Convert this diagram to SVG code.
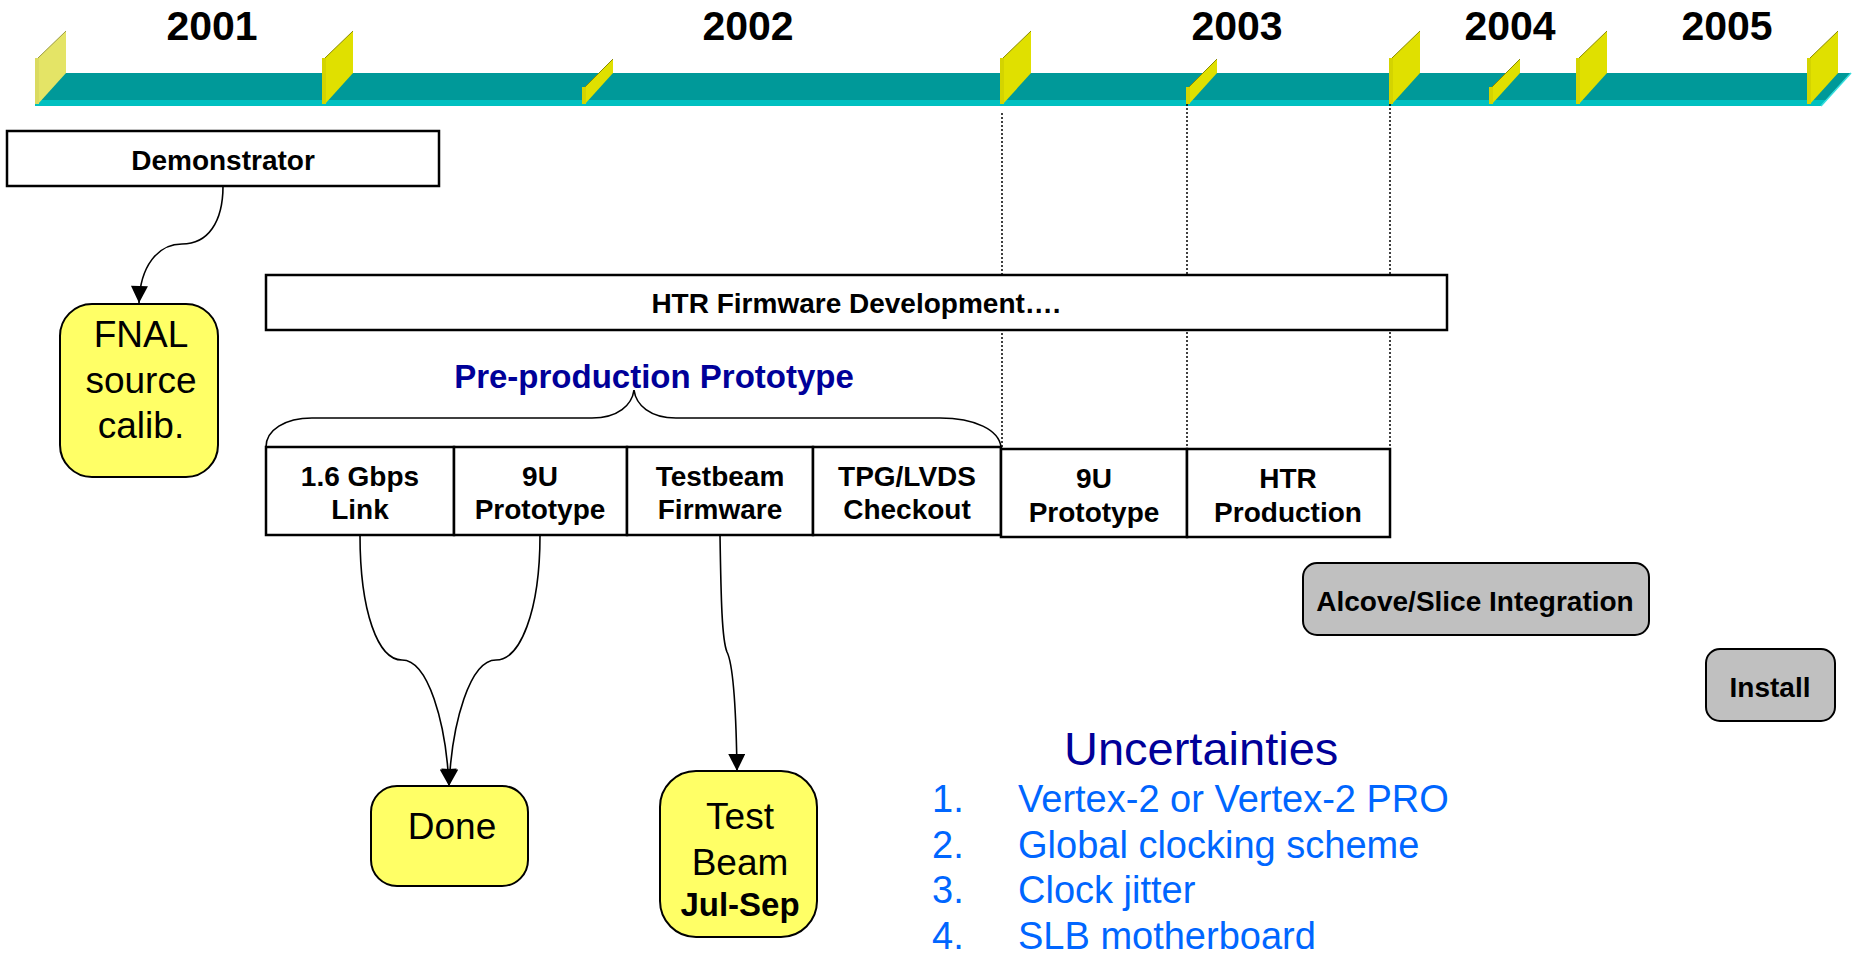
<svg xmlns="http://www.w3.org/2000/svg" width="1860" height="954" viewBox="0 0 1860 954">
  <style>
    text { font-family: "Liberation Sans", Arial, sans-serif; }
    .yr { font-size: 41px; font-weight: bold; text-anchor: middle; fill: #000; }
    .lbl { font-size: 28px; font-weight: bold; text-anchor: middle; fill: #000; }
    .big { font-size: 37px; text-anchor: middle; fill: #000; }
    .head { font-size: 33px; font-weight: bold; text-anchor: middle; fill: #000099; }
    .unc { font-size: 47px; fill: #000099; }
    .item { font-size: 38px; fill: #0066ff; }
    .box { fill: #fff; stroke: #000; stroke-width: 2.5; }
    .note { fill: #ffff66; stroke: #000; stroke-width: 2; }
    .grey { fill: #c0c0c0; stroke: #000; stroke-width: 2; }
    .wire { fill: none; stroke: #000; stroke-width: 1.6; }
    .guide { fill: none; stroke: #000; stroke-width: 1.5; stroke-dasharray: 2 2; }
    .flag { fill: #e0e000; }
    .flag-edge { fill: #d4d400; }
  </style>
  <defs>
    <marker id="arrow" viewBox="0 0 10 10" refX="10" refY="5" markerWidth="18" markerHeight="17" markerUnits="userSpaceOnUse" orient="auto">
      <path d="M0,0 L10,5 L0,10 Z" fill="#000"/>
    </marker>
    <g id="flagBig">
      <path class="flag" d="M3,-46 L31,-73 L31,-31 L3,0 Z"/>
      <rect class="flag-edge" x="0" y="-46" width="4" height="46"/>
      <path d="M3,-46 L31,-73" stroke="#8a8a00" stroke-width="1" fill="none"/>
    </g>
    <g id="flagSmall">
      <path class="flag" d="M3,-17 L31,-45 L31,-31 L3,0 Z"/>
      <rect class="flag-edge" x="0" y="-17" width="4" height="17"/>
      <path d="M3,-17 L31,-45" stroke="#8a8a00" stroke-width="1" fill="none"/>
    </g>
  </defs>

  <rect width="1860" height="954" fill="#fff"/>

  <!-- timeline bar -->
  <g id="timeline">
    <polygon points="35,73 1851,73 1826,100 35,100" fill="#009999"/>
    <polygon points="35,100 1826,100 1821,106 35,106" fill="#00c0c0"/>
    <path d="M1851,73 L1821,106" stroke="#33dddd" stroke-width="1.5" fill="none"/>
    <g transform="translate(35,104)">
      <path d="M3,-46 L31,-73 L31,-31 L3,0 Z" fill="#e4e466"/>
      <rect x="0" y="-46" width="4" height="46" fill="#dada60"/>
      <path d="M3,-46 L31,-73" stroke="#9a9a40" stroke-width="1" fill="none"/>
    </g>
    <use href="#flagBig" x="322" y="104"/>
    <use href="#flagSmall" x="582" y="104"/>
    <use href="#flagBig" x="1000" y="104"/>
    <use href="#flagSmall" x="1186" y="104"/>
    <use href="#flagBig" x="1389" y="104"/>
    <use href="#flagSmall" x="1489" y="104"/>
    <use href="#flagBig" x="1576" y="104"/>
    <use href="#flagBig" x="1807" y="104"/>
    <text class="yr" x="212" y="40">2001</text>
    <text class="yr" x="748" y="40">2002</text>
    <text class="yr" x="1237" y="40">2003</text>
    <text class="yr" x="1510" y="40">2004</text>
    <text class="yr" x="1727" y="40">2005</text>
  </g>

  <!-- dotted guides from the milestones -->
  <g id="guides">
    <path class="guide" d="M1002,113 V448"/>
    <path class="guide" d="M1187,104 V448"/>
    <path class="guide" d="M1390,104 V448"/>
  </g>

  <g id="demonstrator">
    <rect class="box" x="7" y="131" width="432" height="55"/>
    <text class="lbl" x="223" y="170">Demonstrator</text>
  </g>

  <g id="fnal">
    <rect class="note" x="60" y="304" width="158" height="173" rx="32" ry="32"/>
    <text class="big" x="141" y="347">FNAL</text>
    <text class="big" x="141" y="393">source</text>
    <text class="big" x="141" y="438">calib.</text>
  </g>

  <g id="htr-firmware">
    <rect class="box" x="266" y="275" width="1181" height="55"/>
    <text class="lbl" x="856" y="313">HTR Firmware Development….</text>
  </g>

  <g id="preproduction">
    <text class="head" x="654" y="388">Pre-production Prototype</text>
    <path class="wire" stroke-width="2" d="M266,447 C266,430 285,418 312,418 L592,418 C618,418 632,405 634,390 C636,405 650,418 676,418 L940,418 C975,418 999,430 1001,447"/>
  </g>

  <g id="link">
    <rect class="box" x="266" y="447" width="188" height="88"/>
    <text class="lbl" x="360" y="486">1.6 Gbps</text>
    <text class="lbl" x="360" y="519">Link</text>
  </g>
  <g id="proto-9u-a">
    <rect class="box" x="454" y="447" width="173" height="88"/>
    <text class="lbl" x="540" y="486">9U</text>
    <text class="lbl" x="540" y="519">Prototype</text>
  </g>
  <g id="testbeam-fw">
    <rect class="box" x="627" y="447" width="186" height="88"/>
    <text class="lbl" x="720" y="486">Testbeam</text>
    <text class="lbl" x="720" y="519">Firmware</text>
  </g>
  <g id="tpg-lvds">
    <rect class="box" x="813" y="447" width="188" height="88"/>
    <text class="lbl" x="907" y="486">TPG/LVDS</text>
    <text class="lbl" x="907" y="519">Checkout</text>
  </g>
  <g id="proto-9u-b">
    <rect class="box" x="1001" y="449" width="186" height="88"/>
    <text class="lbl" x="1094" y="488">9U</text>
    <text class="lbl" x="1094" y="522">Prototype</text>
  </g>
  <g id="htr-production">
    <rect class="box" x="1187" y="449" width="203" height="88"/>
    <text class="lbl" x="1288" y="488">HTR</text>
    <text class="lbl" x="1288" y="522">Production</text>
  </g>

  <g id="alcove">
    <rect class="grey" x="1303" y="563" width="346" height="72" rx="14" ry="14"/>
    <text class="lbl" x="1475" y="611">Alcove/Slice Integration</text>
  </g>
  <g id="install">
    <rect class="grey" x="1706" y="649" width="129" height="72" rx="14" ry="14"/>
    <text class="lbl" x="1770" y="697">Install</text>
  </g>

  <g id="done">
    <rect class="note" x="371" y="786" width="157" height="100" rx="26" ry="26"/>
    <text class="big" x="452" y="839">Done</text>
  </g>
  <g id="test-beam">
    <rect class="note" x="660" y="771" width="157" height="166" rx="36" ry="36"/>
    <text class="big" x="740" y="829">Test</text>
    <text class="big" x="740" y="875">Beam</text>
    <text class="big" x="740" y="916" style="font-weight:bold;font-size:33px">Jul-Sep</text>
  </g>

  <g id="uncertainties">
    <text class="unc" x="1064" y="765">Uncertainties</text>
    <text class="item" x="932" y="812">1.</text>
    <text class="item" x="1018" y="812">Vertex-2 or Vertex-2 PRO</text>
    <text class="item" x="932" y="858">2.</text>
    <text class="item" x="1018" y="858">Global clocking scheme</text>
    <text class="item" x="932" y="903">3.</text>
    <text class="item" x="1018" y="903">Clock jitter</text>
    <text class="item" x="932" y="949">4.</text>
    <text class="item" x="1018" y="949">SLB motherboard</text>
  </g>

  <!-- connectors -->
  <g id="connectors">
    <path class="wire" marker-end="url(#arrow)" d="M223,186 C223,222 208,244 182,244 C158,244 140,266 139,303"/>
    <path class="wire" marker-end="url(#arrow)" d="M360,535 C360,612 378,660 402,660 C428,660 446,722 449,786"/>
    <path class="wire" marker-end="url(#arrow)" d="M540,535 C540,612 520,660 496,660 C470,660 452,722 449,786"/>
    <path class="wire" marker-end="url(#arrow)" d="M720,535 C721,600 722,640 727,652 C733,664 736,700 737,771"/>
  </g>
</svg>
